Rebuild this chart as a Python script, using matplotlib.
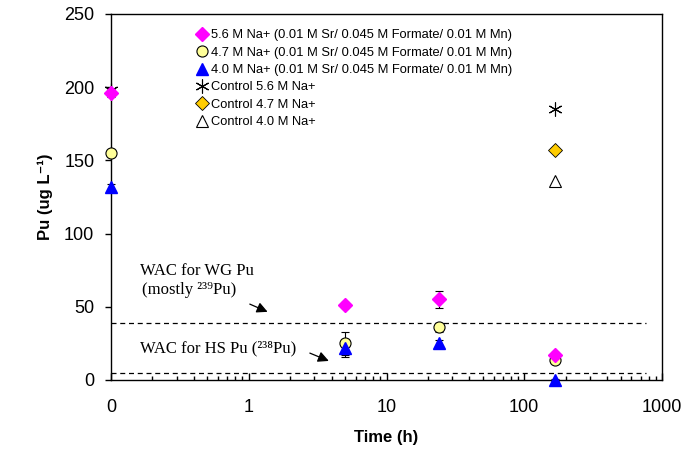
import numpy as np
import matplotlib.pyplot as plt
from matplotlib.ticker import FixedLocator, LogLocator, NullFormatter

# sampling times (h); t = 0 sits on the left edge of the log axis (labelled "0")
time_h = [0, 5, 24, 168]
x_min = 0.1

na56 = [196, 51, 55, 17]
na56_err = [3, 2, 6, 2]
na47 = [155, 25, 36, 14]
na47_err = [2, 8, 3, 2]
na40 = [132, 22, 25, 0]
na40_err = [2, 6, 2, 1]

ctrl_time = [0, 168]
ctrl56 = [198, 185]
ctrl47 = [np.nan, 157]
ctrl40 = [np.nan, 136]

wac_wg = 39
wac_hs = 5

labels = ['5.6 M Na+ (0.01 M Sr/ 0.045 M Formate/ 0.01 M Mn)',
          '4.7 M Na+ (0.01 M Sr/ 0.045 M Formate/ 0.01 M Mn)',
          '4.0 M Na+ (0.01 M Sr/ 0.045 M Formate/ 0.01 M Mn)',
          'Control 5.6 M Na+',
          'Control 4.7 M Na+',
          'Control 4.0 M Na+']

xticks = [0.1, 1, 10, 100, 1000]
xtick_labels = ['0', '1', '10', '100', '1000']

def pos(t):
    return np.where(np.asarray(t, float) == 0, x_min, t)

sans = ['Liberation Sans', 'DejaVu Sans']
serif = ['Liberation Serif', 'DejaVu Serif']
plt.rcParams['font.family'] = sans

fig = plt.figure(figsize=(6.86, 4.55), dpi=100)
ax = fig.add_axes([111/686, 75/455, 551/686, 366/455])

eb = dict(ecolor='black', elinewidth=0.8, capsize=3, capthick=0.8, ls='none', clip_on=False)

h = []
h.append(ax.errorbar(pos(time_h), na56, yerr=na56_err, marker='D', ms=7, mfc='#FF00FF', mec='#FF00FF',
                     zorder=5, **eb)[0])
h.append(ax.errorbar(pos(time_h), na47, yerr=na47_err, marker='o', ms=8, mfc='#FFFF99', mec='black',
                     mew=0.8, zorder=4, **eb)[0])
h.append(ax.errorbar(pos(time_h), na40, yerr=na40_err, marker='^', ms=8, mfc='#0000FF', mec='#0000FF',
                     zorder=4, **eb)[0])
h += ax.plot(pos(ctrl_time), ctrl56, ls='none', marker=(6, 2, 0), ms=10, mec='black', mew=0.8,
             zorder=3, clip_on=False)
h += ax.plot(pos(ctrl_time), ctrl47, ls='none', marker='D', ms=7, mfc='#FFCC00', mec='black', mew=0.6,
             zorder=3, clip_on=False)
h += ax.plot(pos(ctrl_time), ctrl40, ls='none', marker='^', ms=8, mfc='white', mec='black', mew=0.8,
             zorder=3, clip_on=False)

ax.plot([x_min, 770], [wac_wg, wac_wg], ls=(0, (4, 3)), color='black', lw=0.9)
ax.plot([x_min, 770], [wac_hs, wac_hs], ls=(0, (4, 3)), color='black', lw=0.9)

ax.text(0.163, 74.5, 'WAC for WG Pu', family=serif, fontsize=12, va='center')
ax.text(0.168, 61.5, '(mostly ²³⁹Pu)', family=serif, fontsize=12, va='center')
ax.text(0.163, 21.9, 'WAC for HS Pu (²³⁸Pu)', family=serif, fontsize=12, va='center')
arrow = dict(arrowstyle='-|>', color='black', lw=0.9, mutation_scale=16)
ax.annotate('', xy=(1.43, 45.8), xytext=(0.975, 52.6), arrowprops=arrow)
ax.annotate('', xy=(3.98, 12.3), xytext=(2.66, 19.1), arrowprops=arrow)

ax.set_xscale('log')
ax.set_xlim(0.1, 1000)
ax.set_ylim(0, 250)
ax.xaxis.set_major_locator(FixedLocator(xticks))
ax.set_xticklabels(xtick_labels)
ax.xaxis.set_minor_locator(LogLocator(base=10, subs=np.arange(2, 10)))
ax.xaxis.set_minor_formatter(NullFormatter())
ax.set_yticks(np.arange(0, 251, 50))
ax.tick_params(axis='both', which='major', labelsize=13, direction='in', length=5, width=1)
ax.tick_params(axis='x', which='major', pad=14)
ax.tick_params(axis='x', which='minor', direction='in', length=3, width=1)
ax.tick_params(axis='y', direction='out', length=4, pad=8)
for s in ax.spines.values():
    s.set_linewidth(1)

ax.set_xlabel('Time (h)', fontsize=12, fontweight='bold', labelpad=10)
ax.set_ylabel('Pu (ug L⁻¹)', fontsize=12, fontweight='bold', labelpad=8)

ax.legend(h, labels, loc='upper left', bbox_to_anchor=(0.147, 0.973), frameon=False, fontsize=9.3,
          handlelength=0.8, handletextpad=0.3, labelspacing=0.42, borderaxespad=0, numpoints=1)

fig.savefig('out.png', dpi=100)
